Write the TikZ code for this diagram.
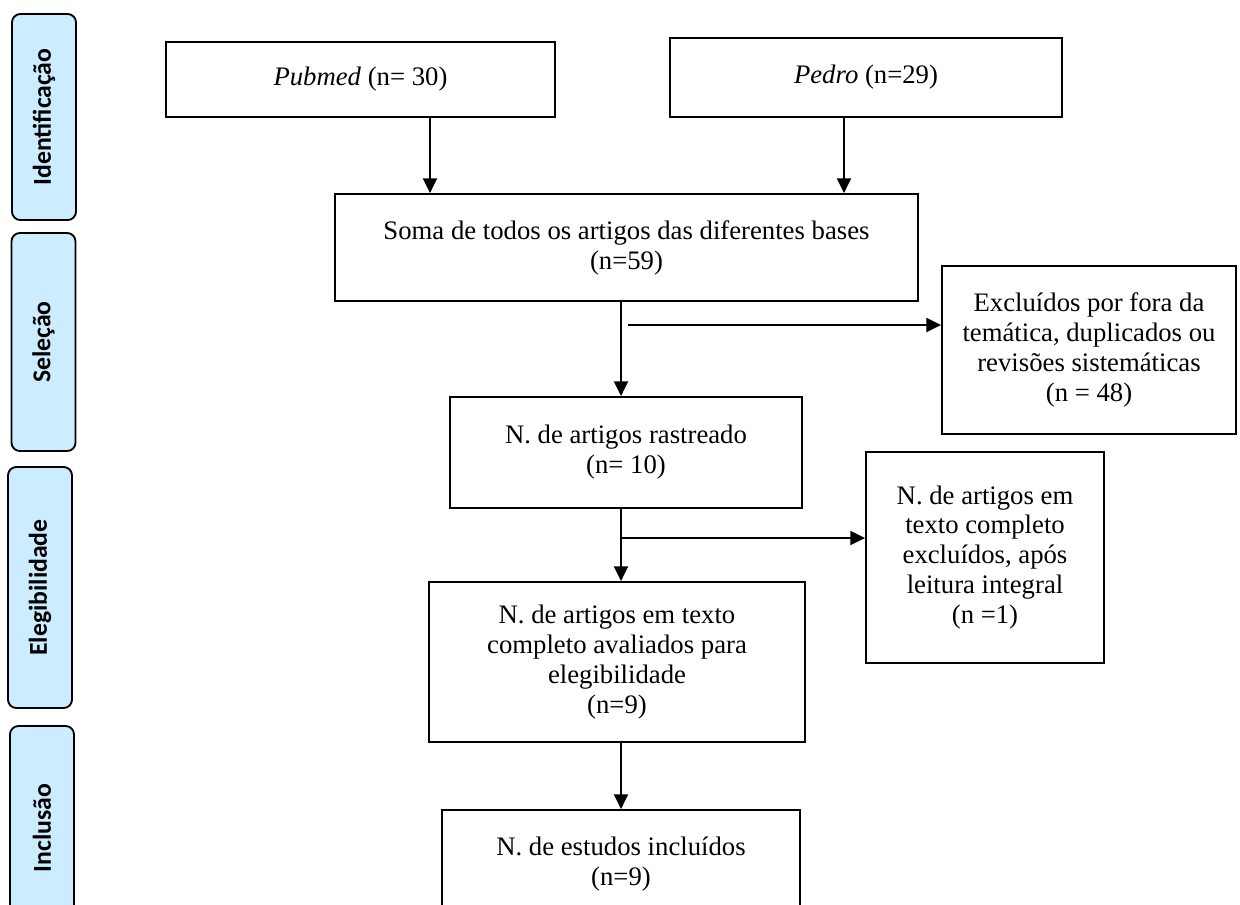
\documentclass[tikz,border=0pt]{standalone}
\usepackage{fontspec}
\setmainfont{Liberation Serif}
\newfontfamily\stagefont{Carlito}
\usetikzlibrary{arrows.meta,calc}
\definecolor{stageblue}{RGB}{204,236,255}

\tikzset{
    box/.style={draw, line width=1.3pt, align=center, inner sep=0pt,
        font=\fontsize{19}{21.3}\selectfont},
    stage/.style={draw, line width=1.3pt, fill=stageblue, rounded corners=6pt,
        rotate=90, inner sep=0pt, minimum height=1.6cm,
        font=\stagefont\bfseries\fontsize{18.3}{20}\selectfont},
    flow/.style={line width=1.3pt, -{Triangle[length=10.5pt,width=10pt]}}
}

\begin{document}
\begin{tikzpicture}[x=0.025cm, y=-0.025cm]
        \useasboundingbox (0,0) rectangle (1240,904);
        \coordinate (PA) at (430,0);
        \coordinate (PB) at (844,0);
        \coordinate (MC) at (621,0);
        \coordinate (B1) at (628,325);
        \coordinate (B2) at (621,538);

        % Stages.
        \node[stage, minimum width=5.15cm] (ident) at (44,117) {Identificação};
        \node[stage, minimum width=5.45cm] (selec) at (43.5,342) {Seleção};
        \node[stage, minimum width=6.025cm] (elegi) at (40,587.5) {Elegibilidade};
        \node[stage, minimum width=5.1cm] (inclu) at (42,828) {Inclusão};

        % Boxes.
        \node[box, minimum width=9.725cm, minimum height=1.875cm] (pubmed) at (360.5,79.5) {\textit{Pubmed} (n= 30)};
        \node[box, minimum width=9.8cm, minimum height=1.975cm] (pedro) at (866,77.5) {\textit{Pedro} (n=29)};
        \node[box, minimum width=14.575cm, minimum height=2.675cm] (soma) at (626.5,247.5) {Soma de todos os artigos das diferentes bases\\(n=59)};
        \node[box, minimum width=7.35cm, minimum height=4.2cm] (excl1) at (1089,350) {Excluídos por fora da\\temática, duplicados ou\\revisões sistemáticas\\(n = 48)};
        \node[box, minimum width=8.8cm, minimum height=2.775cm] (rastr) at (626,452.5) {N. de artigos rastreado\\(n= 10)};
        \node[box, minimum width=5.95cm, minimum height=5.275cm] (excl2) at (985,557.5) {N. de artigos em\\texto completo\\excluídos, após\\leitura integral\\(n =1)};
        \node[box, minimum width=9.4cm, minimum height=4cm] (avali) at (617,662) {N. de artigos em texto\\completo avaliados para\\elegibilidade\\(n=9)};
        \node[box, minimum width=8.95cm, minimum height=2.7cm] (inclui) at (621,864) {N. de estudos incluídos\\(n=9)};

        % Arrows.
        \draw[flow] (pubmed.south -| PA) -- (soma.north -| PA);
        \draw[flow] (pedro.south -| PB) -- (soma.north -| PB);
        \draw[flow] (soma.south -| MC) -- (rastr.north -| MC);
        \draw[flow] (B1) -- (B1 -| excl1.west);
        \draw[flow] (rastr.south -| MC) -- (avali.north -| MC);
        \draw[flow] (B2) -- (B2 -| excl2.west);
        \draw[flow] (avali.south -| MC) -- (inclui.north -| MC);

    \end{tikzpicture}
\end{document}
